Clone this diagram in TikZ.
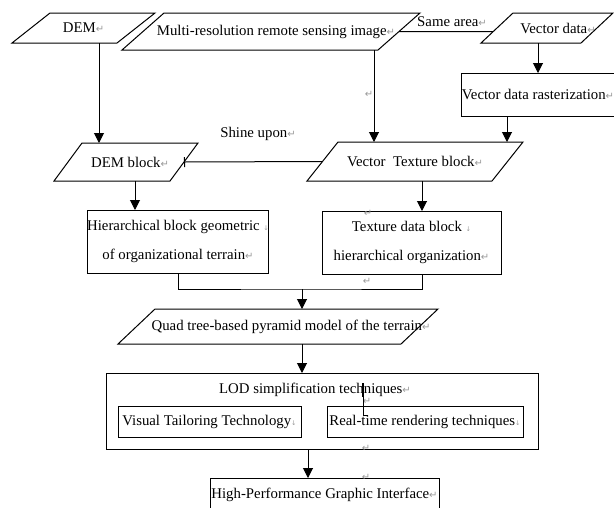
\documentclass[tikz,border=0pt]{standalone}
\usepackage{fontspec}
\setmainfont{Liberation Serif}
\newfontfamily\symfont{DejaVu Sans}
\usetikzlibrary{arrows.meta,calc}
\definecolor{markgray}{gray}{0.6}
% paragraph mark and line-break mark as shown by the word processor
\newcommand\pmark{\textcolor{markgray}{\symfont\fontsize{10}{10}\selectfont ↵}}
\newcommand\lbmark{\textcolor{markgray}{\symfont\fontsize{6.5}{6.5}\selectfont ↓}}
% parallelogram drawn on the frame of a (borderless) node
\newcommand\skewdraw[2]{%
  \coordinate (#1-tl) at ([xshift=#2pt]#1.north west);
  \coordinate (#1-tr) at (#1.north east);
  \coordinate (#1-br) at ([xshift=-#2pt]#1.south east);
  \coordinate (#1-bl) at (#1.south west);
  \draw[edge] (#1-tl) -- (#1-tr) -- (#1-br) -- (#1-bl) -- cycle;}
\tikzset{
  edge/.style={line width=1pt, draw=black},
  arr/.style={edge, -{Triangle[length=10pt,width=10pt]}},
  skew/.style={inner sep=0pt, outer sep=0pt, align=center,
    font=\fontsize{14.8}{29}\selectfont},
  box/.style={draw, line width=1pt, inner sep=0pt, outer sep=0pt, align=center,
    font=\fontsize{14.8}{29}\selectfont},
  txt/.style={inner sep=0pt, font=\fontsize{14.8}{29}\selectfont},
  mk/.style={inner sep=0pt}
}
\begin{document}
\begin{tikzpicture}[x=1pt,y=-1pt]
\useasboundingbox (0,0) rectangle (614,507);

% --- top row: sources ---
\node[skew, minimum width=143pt, minimum height=30pt] (dem) at (83.5,28) {DEM\pmark};
\skewdraw{dem}{38}
\node[skew, minimum width=298pt, minimum height=37pt] (multi) at (271,31.5) {\hspace*{10pt}Multi-resolution remote sensing image\pmark};
\skewdraw{multi}{42}
\node[skew, minimum width=132pt, minimum height=30pt] (vec) at (547,28) {\hspace*{22pt}Vector data\pmark};
\skewdraw{vec}{32}

\node[box, minimum width=148pt, minimum height=43pt] (rast) at (538,94.5) {Vector data rasterization\pmark};

% --- blocks ---
\node[skew, minimum width=144pt, minimum height=38pt] (demblk) at (126,162) {\hspace*{8pt}DEM block\pmark};
\skewdraw{demblk}{28}
\node[skew, minimum width=216pt, minimum height=39pt] (vt) at (415,161.5) {Vector\ \ Texture block\pmark};
\skewdraw{vt}{31}

\node[box, minimum width=180pt, minimum height=63pt] (hier) at (178,241.5)
  {Hierarchical block geometric \lbmark\\ of organizational terrain\pmark};
\node[box, minimum width=179pt, minimum height=63pt] (tex) at (411.5,242.5)
  {Texture data block \lbmark\\ hierarchical organization\pmark};

\node[skew, minimum width=320pt, minimum height=35pt] (quad) at (278,326.5)
  {\hspace*{26pt}\raisebox{-5pt}{Quad tree-based pyramid model of the terrain\pmark}};
\skewdraw{quad}{37}

% --- LOD group ---
\node[box, minimum width=432pt, minimum height=76pt] (lod) at (322,411) {};
\node[txt] (lodt) at (315,390) {LOD simplification techniques\pmark};
\node[box, minimum width=183pt, minimum height=31pt] (vis) at (209.5,421.5) {Visual\ Tailoring Technology\lbmark};
\node[box, minimum width=196pt, minimum height=31pt] (rt) at (425,421.5) {Real-time rendering techniques\lbmark};

\node[box, minimum width=229pt, minimum height=34pt] (hpgi) at (324.5,495) {High-Performance Graphic Interface\pmark};

% --- labels ---
\node[txt] (same) at (452,22) {Same area\pmark};
\node[txt] (shine) at (258,134) {Shine upon\pmark};

% loose paragraph marks
\node[mk] (m1) at (369,94) {\pmark};
\node[mk] (m2) at (368,213) {\pmark};
\node[mk] (m3) at (367,281) {\pmark};
\node[mk] (m4) at (367,401) {\pmark};
\node[mk] (m5) at (366,448) {\pmark};
\node[mk] (m6) at (366,477) {\pmark};

% text cursor
\coordinate (cur) at (363,383);
\draw[line width=1.8pt] (cur) -- ++(0,14);
\draw[line width=1pt] (cur) ++(0,14) -- ++(0,18) -- ++(5,0);

% --- connectors ---
\draw[edge] ($(multi-tr)!0.5!(multi-br)$) -- ($(vec-tl)!0.62!(vec-bl)$);
\draw[arr] ([xshift=15.5pt]dem.south) -- ([xshift=15.5pt]dem.south |- demblk.north);
\draw[arr] ([xshift=103pt]multi.south) -- ([xshift=103pt]multi.south |- vt.north);
\draw[arr] (rast.north |- vec.south) -- (rast.north);
\draw[arr] ([xshift=-31pt]rast.south) -- ([xshift=-31pt]rast.south |- vt.north);
\draw[edge, -{Bar[width=10pt]}] ($(vt-tl)!0.5!(vt-bl)$) -- ($(demblk-tr)!0.5!(demblk-br)$);
\draw[arr] ([xshift=9pt]demblk.south) -- ([xshift=9pt]demblk.south |- hier.north);
\draw[arr] ([xshift=7pt]vt.south) -- ([xshift=7pt]vt.south |- tex.north);
\coordinate (jn) at (302,289);
\draw[edge] (hier.south) |- (jn) -| ([xshift=10.5pt]tex.south);
\draw[arr] (jn) -- (jn |- quad.north);
\draw[arr] (jn |- quad.south) -- (jn |- lod.north);
\draw[arr] ([xshift=-14pt]lod.south) -- ([xshift=-14pt]lod.south |- hpgi.north);
\end{tikzpicture}
\end{document}
